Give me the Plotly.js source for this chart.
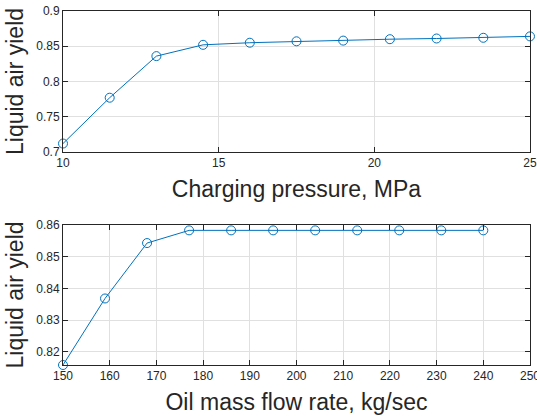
<!DOCTYPE html>
<html>
<head>
<meta charset="utf-8">
<script src="https://cdn.plot.ly/plotly-3.0.1.min.js"></script>
<style>
html,body{margin:0;padding:0;background:#fff;}
#chart{width:537px;height:416px;}
</style>
</head>
<body>
<div id="chart"></div>
<script>
// Top panel: charging pressure vs liquid air yield
const pressure = [10, 11.5, 13, 14.5, 16, 17.5, 19, 20.5, 22, 23.5, 25];
const yieldPressure = [0.712, 0.777, 0.836, 0.852, 0.855, 0.857, 0.858, 0.860, 0.861, 0.862, 0.864];

// Bottom panel: oil mass flow rate vs liquid air yield
const oilFlow = [150, 159, 168, 177, 186, 195, 204, 213, 222, 231, 240];
const yieldOil = [0.8158, 0.8368, 0.8543, 0.8583, 0.8583, 0.8583, 0.8583, 0.8583, 0.8583, 0.8583, 0.8583];

const xTicksTop = [10, 15, 20, 25];
const yTicksTop = [0.7, 0.75, 0.8, 0.85, 0.9];
const yTickTextTop = ['0.7', '0.75', '0.8', '0.85', '0.9'];
const xTicksBottom = [150, 160, 170, 180, 190, 200, 210, 220, 230, 240, 250];
const yTicksBottom = [0.82, 0.83, 0.84, 0.85, 0.86];

const lineColor = '#0072BD';
const axColor = '#262626';
const gridColor = '#e0e0e0';
const fontFam = 'Liberation Sans, Arial, Helvetica, sans-serif';

function trace(x, y, xa, ya) {
  return {
    x: x, y: y, xaxis: xa, yaxis: ya,
    type: 'scatter', mode: 'lines+markers',
    line: {color: lineColor, width: 1},
    marker: {symbol: 'circle-open', size: 9, color: lineColor, line: {width: 1, color: lineColor}},
    cliponaxis: false,
    showlegend: false
  };
}

function axisBase() {
  return {
    showline: true, linecolor: axColor, linewidth: 1, mirror: 'ticks',
    ticks: 'inside', ticklen: 5, tickcolor: axColor, tickwidth: 1,
    showgrid: true, gridcolor: gridColor, gridwidth: 1,
    zeroline: false,
    tickfont: {family: fontFam, size: 12, color: axColor},
    ticklabeloverflow: 'allow',
    automargin: false
  };
}

const titleFont = {family: fontFam, size: 23, color: axColor};

const layout = {
  width: 537, height: 416,
  margin: {l: 63, r: 7, t: 11, b: 51},
  paper_bgcolor: '#ffffff', plot_bgcolor: '#ffffff',
  font: {family: fontFam, color: axColor},
  xaxis: Object.assign(axisBase(), {
    domain: [0, 1], anchor: 'y', range: [10, 25],
    tickvals: xTicksTop, ticktext: xTicksTop.map(String),
    title: {text: 'Charging pressure, MPa', font: titleFont, standoff: 11}
  }),
  yaxis: Object.assign(axisBase(), {
    domain: [0.6017, 1], anchor: 'x', range: [0.7, 0.9],
    tickvals: yTicksTop, ticktext: yTickTextTop,
    title: {text: 'Liquid air yield', font: titleFont, standoff: 6}
  }),
  xaxis2: Object.assign(axisBase(), {
    domain: [0, 1], anchor: 'y2', range: [150, 250],
    tickvals: xTicksBottom, ticktext: xTicksBottom.map(String),
    title: {text: 'Oil mass flow rate, kg/sec', font: titleFont, standoff: 11}
  }),
  yaxis2: Object.assign(axisBase(), {
    domain: [0, 0.3955], anchor: 'x2', range: [0.8158, 0.86],
    tickvals: yTicksBottom, ticktext: yTicksBottom.map(v => v.toFixed(2)),
    title: {text: 'Liquid air yield', font: titleFont, standoff: 6}
  })
};

Plotly.newPlot('chart', [
  trace(pressure, yieldPressure, 'x', 'y'),
  trace(oilFlow, yieldOil, 'x2', 'y2')
], layout, {displayModeBar: false, staticPlot: true});
</script>
</body>
</html>
